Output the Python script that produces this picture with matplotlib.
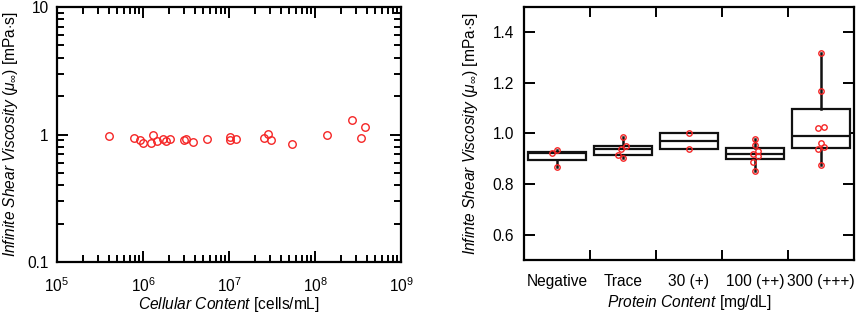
import numpy as np
import matplotlib
matplotlib.use("Agg")
import matplotlib.pyplot as plt
from matplotlib.ticker import LogLocator, FixedLocator, FixedFormatter, NullFormatter

plt.rcParams['font.family'] = ['Liberation Sans', 'DejaVu Sans']
plt.rcParams['mathtext.fontset'] = 'custom'
plt.rcParams['mathtext.rm'] = 'Liberation Sans'
plt.rcParams['mathtext.it'] = 'Liberation Sans:italic'
plt.rcParams['mathtext.bf'] = 'Liberation Sans:bold'

# ---- Left panel data: cellular content vs infinite shear viscosity ----
cells = [3.99e5, 7.9e5, 9.3e5, 1.01e6, 1.25e6, 1.31e6, 1.47e6, 1.69e6, 1.85e6,
         2.06e6, 3.03e6, 3.16e6, 3.78e6, 5.6e6, 1.03e7, 1.03e7, 1.2e7, 2.58e7,
         2.82e7, 3.08e7, 5.36e7, 1.39e8, 2.72e8, 3.43e8, 3.81e8]
visc_cells = [0.973, 0.934, 0.900, 0.853, 0.858, 0.990, 0.885, 0.927, 0.894,
              0.922, 0.905, 0.922, 0.873, 0.927, 0.961, 0.900, 0.922, 0.934,
              1.015, 0.910, 0.838, 1.000, 1.290, 0.944, 1.145]

# ---- Right panel data: protein content groups ----
categories = ["Negative", "Trace", "30 (+)", "100 (++)", "300 (+++)"]
group_values = [
    [0.935, 0.921, 0.868],
    [0.987, 0.950, 0.938, 0.914, 0.902],
    [1.002, 0.940],
    [0.977, 0.956, 0.929, 0.917, 0.912, 0.889, 0.850],
    [1.319, 1.168, 1.021, 1.027, 0.961, 0.948, 0.940, 0.876],
]
group_offsets = [
    [0.0, -0.08, 0.0],
    [0.0, 0.05, -0.03, -0.07, 0.0],
    [0.0, 0.0],
    [0.0, 0.0, 0.04, -0.035, 0.04, -0.035, 0.0],
    [0.0, 0.0, -0.04, 0.04, 0.0, 0.04, -0.04, 0.0],
]


def hinge_stats(vals, label):
    v = np.sort(np.asarray(vals))
    n = len(v)
    med = np.median(v)
    half = (n + 1) // 2
    lo = np.median(v[:half])
    hi = np.median(v[n - half:])
    return dict(med=med, q1=lo, q3=hi, whislo=v[0], whishi=v[-1], fliers=[], label=label)


RED = '#f52525'
TICK_FS = 11.2
LAB_FS = 11.2
fig = plt.figure(figsize=(8.58, 3.14), dpi=100)

# ---------------- Left panel ----------------
ax1 = fig.add_axes([0.0664, 0.1656, 0.401, 0.812])
ax1.plot(cells, visc_cells, 'o', mfc='none', mec=RED, ms=5.4, mew=1.0, ls='none')
ax1.set_xscale('log')
ax1.set_yscale('log')
ax1.set_xlim(1e5, 1e9)
ax1.set_ylim(0.1, 10)
ax1.yaxis.set_major_locator(FixedLocator([0.1, 1, 10]))
ax1.yaxis.set_major_formatter(FixedFormatter(["0.1", "1", "10"]))
ax1.yaxis.set_minor_locator(LogLocator(base=10, subs=np.arange(2, 10)))
ax1.yaxis.set_minor_formatter(NullFormatter())
ax1.xaxis.set_minor_locator(LogLocator(base=10, subs=np.arange(2, 10)))
ax1.xaxis.set_minor_formatter(NullFormatter())
ax1.tick_params(which='both', direction='in', top=True, right=True, width=1.4, labelsize=TICK_FS)
ax1.tick_params(which='major', length=8)
ax1.tick_params(which='minor', length=5)
ax1.tick_params(axis='x', which='major', pad=10)
ax1.tick_params(axis='y', which='major', pad=6)
ax1.set_xlabel(r"$\it{Cellular\ Content}$ [cells/mL]", fontsize=LAB_FS, labelpad=0.5)
ax1.set_ylabel(r"$\it{Infinite\ Shear\ Viscosity\ (\mu_{\infty})}$ [mPa$\cdot$s]", fontsize=LAB_FS, labelpad=5)
for s in ax1.spines.values():
    s.set_linewidth(1.6)

# ---------------- Right panel ----------------
ax2 = fig.add_axes([0.6107, 0.172, 0.3846, 0.806])
stats = [hinge_stats(v, c) for v, c in zip(group_values, categories)]
pos = np.arange(len(categories))
ax2.bxp(stats, positions=pos, widths=0.88, showcaps=False, showfliers=False,
        patch_artist=True,
        boxprops=dict(facecolor='white', edgecolor='#111111', linewidth=1.6),
        medianprops=dict(color='#111111', linewidth=1.6),
        whiskerprops=dict(color='#111111', linewidth=1.8), zorder=2)
for i, (vals, offs) in enumerate(zip(group_values, group_offsets)):
    ax2.plot(i + np.asarray(offs), vals, 'o', mfc='none', mec=RED, ms=3.9, mew=1.0,
             ls='none', zorder=3)
ax2.set_xlim(-0.5, len(categories) - 0.5)
ax2.set_ylim(0.5, 1.5)
ax2.set_yticks([0.6, 0.8, 1.0, 1.2, 1.4])
ax2.set_yticklabels(["0.6", "0.8", "1.0", "1.2", "1.4"])
ax2.set_xticks(pos)
ax2.set_xticklabels(categories)
ax2.set_xticks(pos[:-1] + 0.5, minor=True)
ax2.tick_params(axis='x', which='major', length=0, pad=10, labelsize=TICK_FS)
ax2.tick_params(axis='x', which='minor', direction='in', length=7.5, width=1.4, top=True, bottom=True)
ax2.tick_params(axis='y', which='major', direction='in', length=8, width=1.4, left=True, right=True,
                labelsize=TICK_FS, pad=7)
ax2.set_xlabel(r"$\it{Protein\ Content}$ [mg/dL]", fontsize=LAB_FS, labelpad=3)
ax2.set_ylabel(r"$\it{Infinte\ Shear\ Viscosity\ (\mu_{\infty})}$ [mPa$\cdot$s]", fontsize=LAB_FS, labelpad=9)
for s in ax2.spines.values():
    s.set_linewidth(1.6)

fig.savefig("out.png", dpi=100)
